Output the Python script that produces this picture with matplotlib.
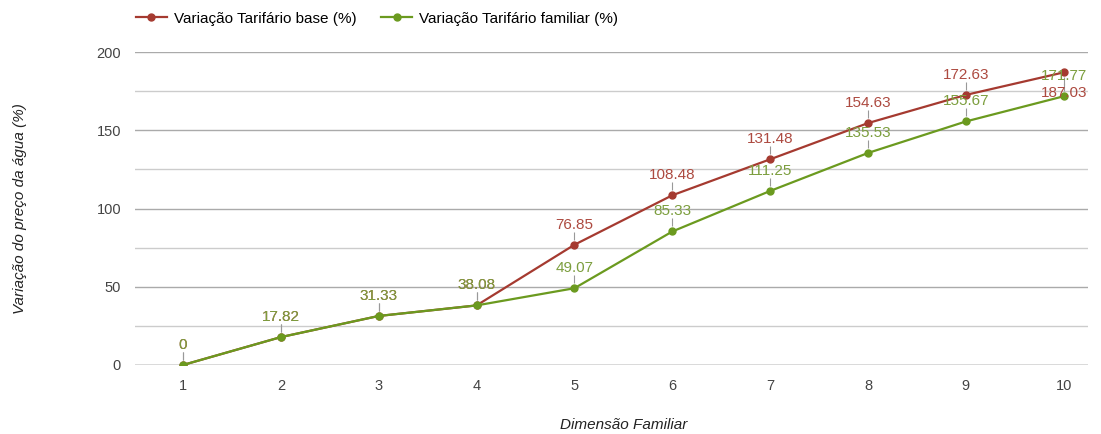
import matplotlib.pyplot as plt
from matplotlib.transforms import offset_copy

plt.rcParams['font.family'] = ['Liberation Sans', 'DejaVu Sans']

dimensao = [1, 2, 3, 4, 5, 6, 7, 8, 9, 10]
base = [0, 17.82, 31.33, 38.08, 76.85, 108.48, 131.48, 154.63, 172.63, 187.03]
familiar = [0, 17.82, 31.33, 38.08, 49.07, 85.33, 111.25, 135.53, 155.67, 171.77]

red = '#a53a30'
red_txt = '#ad4a40'
green = '#6b9a1f'
green_txt = '#7c9e3e'

fig = plt.figure(figsize=(11.01, 4.34), dpi=100)
ax = fig.add_axes([0.1226, 0.159, 0.8654, 0.721])

for y in range(0, 201, 25):
    if y == 0:
        ax.axhline(y, color='#444444', lw=1, zorder=1)
    elif y % 50 == 0:
        ax.axhline(y, color='#aaaaaa', lw=1, zorder=1)
    else:
        ax.axhline(y, color='#cccccc', lw=1, zorder=1)

ax.plot(dimensao, base, color=red, lw=1.6, marker='o', ms=5, zorder=3,
        label='Variação Tarifário base (%)')
ax.plot(dimensao, familiar, color=green, lw=1.6, marker='o', ms=5, zorder=4,
        label='Variação Tarifário familiar (%)')

up_tick = offset_copy(ax.transData, fig=fig, x=0, y=6.5, units='points')
down_tick = offset_copy(ax.transData, fig=fig, x=0, y=-6.5, units='points')


def label(x, y, txt, color, up=True):
    off = 14.5 if up else -14.5
    ax.plot(x, y, marker='|', ms=6, mew=0.8, color='#999999', zorder=2,
            transform=up_tick if up else down_tick)
    ax.annotate(txt, (x, y), xytext=(0, off), textcoords='offset points',
                ha='center', va='center', fontsize=11, color=color, zorder=5)


for i in range(len(dimensao)):
    last = i == len(dimensao) - 1
    label(dimensao[i], base[i], f'{base[i]:g}', red_txt, up=not last)
    label(dimensao[i], familiar[i], f'{familiar[i]:g}', green_txt, up=True)

ax.set_xlim(0.51, 10.245)
ax.set_ylim(0, 200)
ax.set_xticks(dimensao)
ax.set_yticks([0, 50, 100, 150, 200])
ax.tick_params(length=0, labelsize=10.5, colors='#444444', pad=10)
for s in ax.spines.values():
    s.set_visible(False)

ax.set_xlabel('Dimensão Familiar', fontsize=11, style='italic', color='#222222')
ax.xaxis.set_label_coords(0.513, -0.17)
ax.set_ylabel('Variação do preço da água (%)', fontsize=11, style='italic', color='#222222')
ax.yaxis.set_label_coords(-0.113, 0.5)

fig.legend(loc='upper left', bbox_to_anchor=(0.111, 1.005), ncol=2, frameon=False,
           fontsize=11, handlelength=2.0, columnspacing=1.6, handletextpad=0.5)

fig.savefig('out.png', dpi=100)
